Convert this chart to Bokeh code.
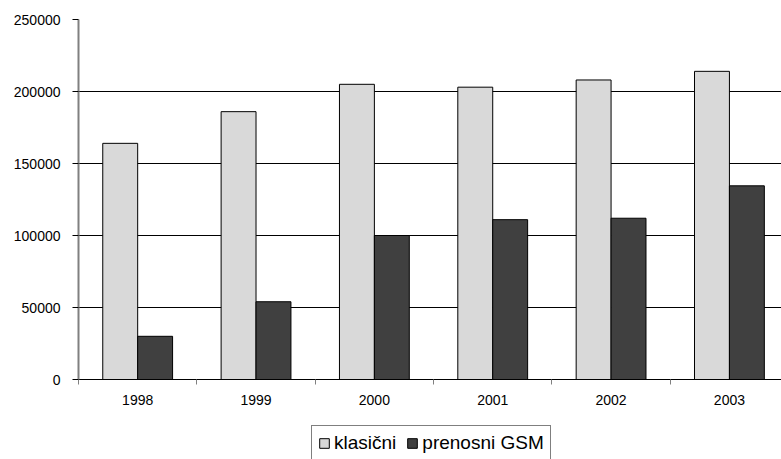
from bokeh.plotting import figure
from bokeh.layouts import column
from bokeh.models import (Range1d, FixedTicker, Legend, LegendItem, ColumnDataSource,
                          NumeralTickFormatter)
from bokeh.transform import dodge
from bokeh.embed import file_html
from bokeh.resources import INLINE

years = ["1998", "1999", "2000", "2001", "2002", "2003"]
klasicni = [164000, 186000, 205000, 203000, 208000, 214000]
gsm = [30000, 54000, 100000, 111000, 112000, 134500]
y_ticks = [0, 50000, 100000, 150000, 200000, 250000]
series_names = ["klasični", "prenosni GSM"]
series_colors = ["#d9d9d9", "#404040"]

centers = [i + 0.5 for i in range(len(years))]
bounds = list(range(len(years) + 1))

src = ColumnDataSource(dict(x=centers, klasicni=klasicni, gsm=gsm))

FONT = "Liberation Sans"
W = 781

p = figure(width=W, height=412, output_backend="svg", toolbar_location=None,
           x_range=Range1d(0, 5.94), y_range=Range1d(0, 250000),
           min_border_left=78, min_border_right=0, min_border_top=19,
           min_border_bottom=33)
p.outline_line_color = None
p.background_fill_color = "white"
p.border_fill_color = "white"

bw = 0.295
r1 = p.vbar(x=dodge("x", -bw / 2, range=p.x_range), top="klasicni", width=bw, source=src,
            fill_color=series_colors[0], line_color="#000000", line_width=1)
r2 = p.vbar(x=dodge("x", bw / 2, range=p.x_range), top="gsm", width=bw, source=src,
            fill_color=series_colors[1], line_color="#000000", line_width=1)

# y axis
p.yaxis.ticker = FixedTicker(ticks=y_ticks)
p.yaxis.formatter = NumeralTickFormatter(format="0")
p.yaxis.axis_line_color = "#808080"
p.yaxis.axis_line_width = 2
p.yaxis.major_tick_line_color = "black"
p.yaxis.major_tick_out = 6
p.yaxis.major_tick_in = 0
p.yaxis.minor_tick_line_color = None
p.yaxis.major_label_standoff = 12
p.yaxis.major_label_text_font = FONT
p.yaxis.major_label_text_font_size = "14px"
p.yaxis.major_label_text_color = "black"

# x axis
p.xaxis.ticker = FixedTicker(ticks=centers, minor_ticks=bounds)
p.xaxis.major_label_overrides = {c: y for c, y in zip(centers, years)}
p.xaxis.major_tick_line_color = None
p.xaxis.major_tick_out = 0
p.xaxis.major_tick_in = 0
p.xaxis.minor_tick_line_color = "#808080"
p.xaxis.minor_tick_out = 5
p.xaxis.minor_tick_in = 0
p.xaxis.axis_line_color = "black"
p.xaxis.axis_line_width = 1
p.xaxis.major_label_standoff = 10
p.xaxis.major_label_text_font = FONT
p.xaxis.major_label_text_font_size = "14px"
p.xaxis.major_label_text_color = "black"

p.xgrid.grid_line_color = None
p.ygrid.ticker = FixedTicker(ticks=y_ticks)
p.ygrid.grid_line_color = "black"
p.ygrid.grid_line_width = 1

# legend strip below (dummy legend renderers sit hidden under the legend box)
p2 = figure(width=W, height=47, output_backend="svg", toolbar_location=None,
            x_range=Range1d(0, 1), y_range=Range1d(0, 1),
            x_axis_type=None, y_axis_type=None,
            min_border_left=0, min_border_right=0, min_border_top=0,
            min_border_bottom=0)
p2.grid.visible = False
p2.outline_line_color = None
p2.background_fill_color = "white"
p2.border_fill_color = "white"
d1 = p2.vbar(x=[0.5], bottom=[0.15], top=[0.3], width=0.005,
             fill_color=series_colors[0], line_color="#000000")
d2 = p2.vbar(x=[0.5], bottom=[0.15], top=[0.3], width=0.005,
             fill_color=series_colors[1], line_color="#000000")

legend = Legend(items=[LegendItem(label=series_names[0], renderers=[d1]),
                       LegendItem(label=series_names[1], renderers=[d2])],
                orientation="horizontal", location=(233, -2))
legend.label_text_font = FONT
legend.label_text_font_size = "19px"
legend.label_text_color = "black"
legend.glyph_width = 12
legend.glyph_height = 12
legend.label_standoff = 4
legend.spacing = 10
legend.padding = 6
legend.margin = 0
legend.border_line_color = "black"
legend.border_line_width = 1
legend.background_fill_color = "white"
legend.background_fill_alpha = 1
p2.add_layout(legend, "center")

layout = column(p, p2, spacing=0)
open("out.html", "w").write(file_html(layout, INLINE))
